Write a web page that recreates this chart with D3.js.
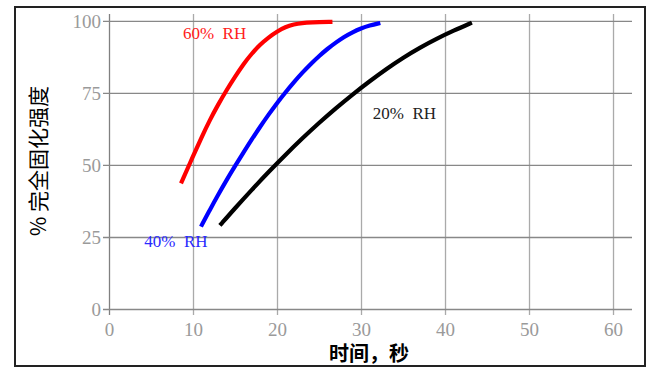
<!DOCTYPE html>
<html>
<head>
<meta charset="utf-8">
<script src="https://cdn.jsdelivr.net/npm/d3@7"></script>
<style>
  body { margin: 0; background: #fff; }
  svg { display: block; }
</style>
</head>
<body>
<svg id="chart"></svg>
<script>
var width = 666,
    height = 376;

// tick values
var xTicks = [0, 10, 20, 30, 40, 50, 60];
var yTicks = [0, 25, 50, 75, 100];

// curves: [time (s), % strength]
var rh60 = [[8.57, 43.6], [10, 53], [11, 59.5], [12, 65.6], [13, 71], [14, 76], [15, 80.6],
            [16, 85], [17, 88.7], [18, 91.8], [19, 94.3], [20, 96.3], [21, 97.9],
            [22, 98.8], [23, 99.3], [24, 99.5], [26.6, 99.7]];
var rh40 = [[10.95, 28.6], [12, 34.4], [13, 39.7], [14, 44.8], [15, 49.6], [16, 54.3],
            [17, 58.9], [18, 63.3], [19, 67.5], [20, 71.5], [21, 75.2], [22, 78.7],
            [23, 82], [24, 85], [25, 87.8], [26, 90.3], [27, 92.5], [28, 94.5],
            [29, 96.1], [30, 97.4], [31, 98.4], [32.3, 99.3]];
var rh20 = [[13.2, 29], [15, 35], [17, 41.4], [19, 47.6], [21, 53.5], [23, 59.2],
            [25, 64.6], [27, 69.7], [29, 74.5], [31, 79], [33, 83.3], [35, 87.2],
            [37, 90.7], [39, 93.8], [41, 96.6], [43.2, 99.4]];

var seriesNames = ["60% RH", "40% RH", "20% RH"];
var seriesData = [rh60, rh40, rh20];
var seriesColors = ["#ff0000", "#0000ff", "#000000"];
var labelColors = ["#ff2020", "#2a2aff", "#222222"];
// label anchor points in data units (left edge, vertical middle)
var labelPos = [[8.8, 95.8], [4.2, 23.6], [31.4, 68]];

var svg =
  d3.select("#chart")
      .attr("width", width)
      .attr("height", height);

// outer frame
svg
  .append("rect")
    .attr("x", 15)
    .attr("y", 7)
    .attr("width", 630)
    .attr("height", 359)
    .attr("fill", "none")
    .attr("stroke", "#222")
    .attr("stroke-width", 2);

var xScale =
  d3.scaleLinear()
    .domain([0, 62.26])
    .range([109, 632]);

var yScale =
  d3.scaleLinear()
    .domain([0, 102.4])
    .range([309, 14]);

// vertical grid + x ticks
svg
  .append("g")
    .attr("transform", `translate(0, ${yScale(0)})`)
    .call(d3.axisBottom(xScale)
      .tickValues(xTicks)
      .tickSizeOuter(0))
    .call(g => g.select(".domain").remove())
    .call(g => g.selectAll(".tick line")
      .attr("y2", -(yScale(0) - 14))
      .attr("y1", 6)
      .attr("stroke", (d, i) => i === 0 ? "#808080" : "#aaaaaa")
      .attr("stroke-width", 1.3))
    .call(g => g.selectAll(".tick text")
      .attr("y", 20)
      .attr("dy", "0.35em")
      .attr("fill", "#9a9a9a")
      .style("font-family", "'Liberation Serif', serif")
      .style("font-size", "19px"));

// horizontal grid + y ticks
svg
  .append("g")
    .attr("transform", `translate(${xScale(0)}, 0)`)
    .call(d3.axisLeft(yScale)
      .tickValues(yTicks)
      .tickSizeOuter(0))
    .call(g => g.select(".domain").remove())
    .call(g => g.selectAll(".tick line")
      .attr("x1", -6)
      .attr("x2", 632 - xScale(0))
      .attr("stroke", "#888888")
      .attr("stroke-width", 1.3))
    .call(g => g.selectAll(".tick text")
      .attr("x", -8)
      .attr("fill", "#9a9a9a")
      .style("font-family", "'Liberation Serif', serif")
      .style("font-size", "19px"));

// curves
var line =
  d3.line()
    .x(d => xScale(d[0]))
    .y(d => yScale(d[1]))
    .curve(d3.curveBasis);

svg
  .append("g")
    .selectAll("path")
    .data(seriesData)
    .enter()
    .append("path")
      .attr("d", line)
      .attr("fill", "none")
      .attr("stroke", (d, i) => seriesColors[i])
      .attr("stroke-width", 4.2);

// curve labels
svg
  .append("g")
    .selectAll("text")
    .data(seriesNames)
    .enter()
    .append("text")
      .attr("x", (d, i) => xScale(labelPos[i][0]))
      .attr("y", (d, i) => yScale(labelPos[i][1]))
      .attr("dy", "0.35em")
      .attr("fill", (d, i) => labelColors[i])
      .style("font-family", "'Liberation Serif', serif")
      .style("font-size", "17px")
      .style("white-space", "pre")
      .text(d => d.replace(" ", "  "));

// axis titles
svg
  .append("text")
    .attr("x", 369)
    .attr("y", 354)
    .attr("dy", "0.35em")
    .attr("text-anchor", "middle")
    .style("font-family", "'Noto Sans CJK SC', sans-serif")
    .style("font-size", "20px")
    .style("font-weight", "bold")
    .text("时间，秒");

svg
  .append("text")
    .attr("transform", "translate(39, 161) rotate(-90)")
    .attr("dy", "0.35em")
    .attr("text-anchor", "middle")
    .style("font-family", "'Noto Sans CJK SC', sans-serif")
    .style("font-size", "21px")
    .text("% 完全固化强度");
</script>
</body>
</html>
